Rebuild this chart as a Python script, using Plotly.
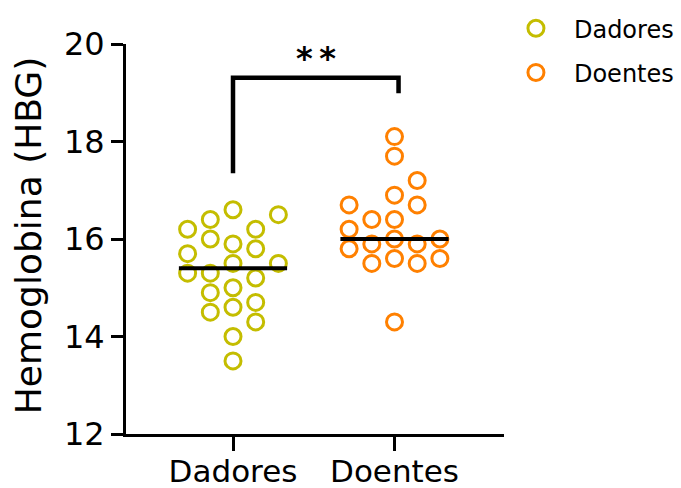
import numpy as np
import plotly.graph_objects as go

# Hemoglobin values (HBG) per group
categories = ["Dadores", "Doentes"]
dadores = [16.6, 15.9, 15.5, 15.0, 14.6, 14.0, 13.5,
           14.5, 14.3, 14.9, 14.7, 15.3, 15.2, 16.0, 15.8, 16.4, 16.2,
           15.3, 15.5, 15.7, 16.5, 16.2]
doentes = [18.1, 17.7, 16.9, 16.4, 16.0, 15.6, 14.3,
           16.4, 17.2, 15.9, 15.9, 15.5, 15.5,
           16.2, 16.0, 15.8, 15.6, 16.7, 16.7]
y_ticks = [12, 14, 16, 18, 20]
significance = "*\u2009*"

colors = {"Dadores": "#C4BD00", "Doentes": "#FF8000"}
FONT = "DejaVu Sans, sans-serif"

SLOT_W = 0.1405      # horizontal step between swarm columns (x units)
MIN_GAP = 0.35       # vertical distance under which two symbols overlap (y units)
MEDIAN_HALF = 0.335  # half width of the median bar


def swarm_offsets(values):
    """Greedy beeswarm: each point takes the free column nearest the centre."""
    cols = {}
    out = []
    for v in values:
        d = 0
        while True:
            cands = [0] if d == 0 else [-d, d]
            free = [s for s in cands
                    if all(abs(v - w) >= MIN_GAP for w in cols.get(s, []))]
            if free:
                if len(free) == 2:
                    free.sort(key=lambda s: (len(cols.get(s, [])), s))
                s = free[0]
                cols.setdefault(s, []).append(v)
                out.append(s * SLOT_W)
                break
            d += 1
    return np.array(out)


fig = go.Figure()
for i, (name, vals) in enumerate(zip(categories, [dadores, doentes])):
    vals = np.array(vals)
    xs = i + swarm_offsets(vals)
    fig.add_trace(go.Scatter(
        x=xs, y=vals, mode="markers", name=name, legendgroup=name,
        marker=dict(symbol="circle-open", size=16, color=colors[name],
                    line=dict(width=3, color=colors[name])),
        hoverinfo="y"))
for i, vals in enumerate([dadores, doentes]):
    med = float(np.median(vals))
    fig.add_trace(go.Scatter(
        x=[i - MEDIAN_HALF, i + MEDIAN_HALF], y=[med, med], mode="lines",
        line=dict(color="black", width=4), showlegend=False, hoverinfo="skip"))

# significance bracket
fig.add_trace(go.Scatter(
    x=[0, 0, 1.025, 1.025], y=[17.35, 19.31, 19.31, 18.99], mode="lines",
    line=dict(color="black", width=4.5), showlegend=False, hoverinfo="skip"))
fig.add_annotation(x=0.514, y=19.72, text="<b>%s</b>" % significance,
                   showarrow=False, font=dict(family=FONT, size=32, color="black"))

fig.add_annotation(xref="paper", yref="paper", x=-0.259, y=0.51,
                   xanchor="center", yanchor="middle",
                   text="Hemoglobina (HBG)", textangle=-90, showarrow=False,
                   font=dict(family=FONT, size=36, color="black"))

fig.update_layout(
    width=681, height=488,
    margin=dict(l=126, r=177, t=44, b=54, autoexpand=False),
    paper_bgcolor="white", plot_bgcolor="white",
    font=dict(family=FONT, color="black"),
    xaxis=dict(range=[-0.6625, 1.678], tickvals=[0, 1], ticktext=categories,
               showgrid=False, zeroline=False, showline=True, linecolor="black",
               linewidth=3, ticks="outside", ticklen=14, tickwidth=3,
               tickcolor="black", tickfont=dict(size=31, family=FONT),
               ticklabelstandoff=-6, automargin=False),
    yaxis=dict(range=[12, 20], tickvals=y_ticks, showgrid=False, zeroline=False,
               showline=True, linecolor="black", linewidth=3, ticks="outside",
               ticklen=12, tickwidth=3, tickcolor="black",
               tickfont=dict(size=32, family=FONT), automargin=False),
    legend=dict(x=0.984, y=1.097, xanchor="left", yanchor="top",
                font=dict(size=24, family=FONT), itemwidth=66,
                tracegroupgap=10, bgcolor="rgba(0,0,0,0)"),
    showlegend=True,
)

fig.write_html("out.html")
